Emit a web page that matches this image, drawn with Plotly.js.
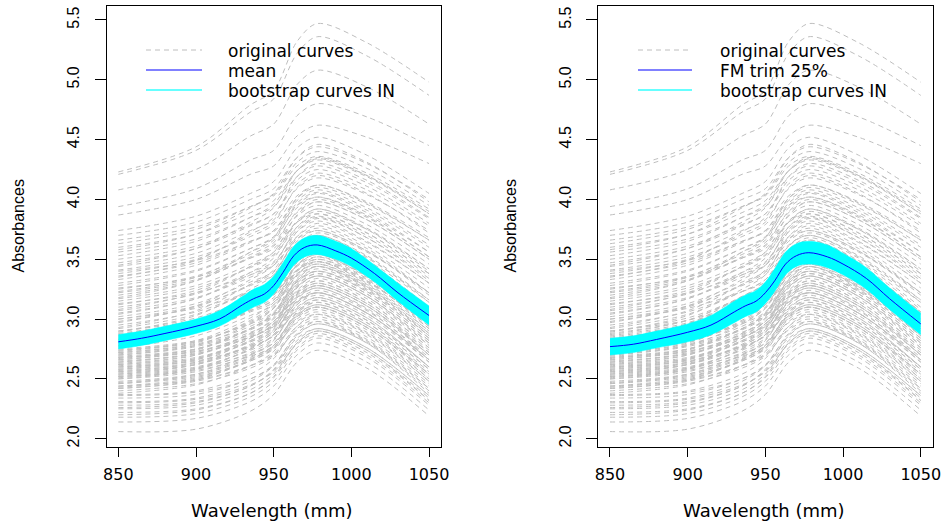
<!DOCTYPE html>
<html>
<head>
<meta charset="utf-8">
<script src="https://cdn.plot.ly/plotly-3.0.1.min.js"></script>
<style>html,body{margin:0;padding:0;background:#fff;}#chart{width:945px;height:522px;}</style>
</head>
<body>
<div id="chart"></div>
<script>
// Wavelengths at which each original curve was read
const wl = [850, 900, 935, 950, 965, 978, 1010, 1050];
// Original absorbance curves
const curves = [
  [4.23,4.44,4.79,4.91,5.32,5.47,5.31,4.98],
  [4.21,4.41,4.73,4.84,5.22,5.36,5.20,4.87],
  [4.08,4.25,4.53,4.63,4.96,5.08,4.94,4.63],
  [3.94,4.09,4.33,4.41,4.70,4.80,4.69,4.45],
  [3.87,4.00,4.21,4.28,4.53,4.62,4.52,4.30],
  [3.74,3.86,4.05,4.15,4.43,4.52,4.37,4.05],
  [3.70,3.81,4.00,4.09,4.35,4.44,4.30,4.00],
  [3.66,3.77,3.94,4.03,4.28,4.36,4.22,3.92],
  [3.63,3.75,3.94,4.04,4.31,4.40,4.26,3.95],
  [3.60,3.71,3.89,3.99,4.24,4.33,4.19,3.88],
  [3.56,3.67,3.85,3.94,4.19,4.28,4.14,3.84],
  [3.53,3.65,3.85,3.96,4.24,4.34,4.20,3.90],
  [3.50,3.61,3.79,3.88,4.13,4.22,4.08,3.78],
  [3.47,3.59,3.78,3.88,4.16,4.25,4.11,3.80],
  [3.44,3.55,3.74,3.83,4.09,4.18,4.04,3.74],
  [3.41,3.52,3.69,3.79,4.03,4.12,3.98,3.68],
  [3.38,3.50,3.71,3.81,4.10,4.20,4.05,3.72],
  [3.36,3.47,3.65,3.74,3.99,4.08,3.93,3.62],
  [3.33,3.45,3.64,3.74,4.01,4.10,3.96,3.66],
  [3.30,3.41,3.59,3.68,3.93,4.02,3.87,3.56],
  [3.28,3.40,3.59,3.69,3.97,4.06,3.91,3.60],
  [3.25,3.36,3.54,3.64,3.89,3.98,3.83,3.50],
  [3.22,3.33,3.51,3.61,3.86,3.95,3.79,3.46],
  [3.20,3.32,3.52,3.62,3.90,4.00,3.85,3.52],
  [3.17,3.28,3.46,3.56,3.81,3.90,3.75,3.42],
  [3.15,3.26,3.43,3.53,3.77,3.86,3.70,3.36],
  [3.12,3.24,3.44,3.54,3.82,3.92,3.75,3.40],
  [3.10,3.21,3.39,3.48,3.73,3.82,3.65,3.30],
  [3.07,3.18,3.35,3.45,3.69,3.78,3.61,3.26],
  [3.05,3.17,3.37,3.47,3.75,3.85,3.68,3.32],
  [3.02,3.13,3.31,3.40,3.65,3.74,3.57,3.20],
  [3.00,3.11,3.28,3.37,3.62,3.70,3.53,3.16],
  [2.98,3.10,3.29,3.39,3.67,3.76,3.59,3.22],
  [2.95,3.06,3.23,3.33,3.57,3.66,3.48,3.10],
  [2.92,3.04,3.23,3.33,3.61,3.70,3.52,3.14],
  [2.90,3.01,3.18,3.27,3.52,3.60,3.42,3.04],
  [2.88,2.99,3.18,3.28,3.55,3.64,3.46,3.08],
  [2.86,2.97,3.14,3.23,3.48,3.56,3.38,3.00],
  [2.84,2.94,3.11,3.20,3.44,3.52,3.34,2.96],
  [2.82,2.93,3.12,3.22,3.49,3.58,3.40,3.02],
  [2.80,2.90,3.07,3.16,3.40,3.48,3.30,2.92],
  [2.78,2.89,3.07,3.16,3.41,3.50,3.32,2.94],
  [2.76,2.86,3.03,3.12,3.36,3.44,3.26,2.88],
  [2.74,2.81,2.97,3.09,3.37,3.46,3.29,2.90],
  [2.72,2.79,2.94,3.05,3.31,3.40,3.23,2.84],
  [2.70,2.77,2.91,3.02,3.27,3.36,3.19,2.80],
  [2.68,2.75,2.92,3.04,3.32,3.42,3.25,2.86],
  [2.66,2.73,2.87,2.98,3.23,3.32,3.15,2.76],
  [2.64,2.71,2.85,2.96,3.21,3.30,3.13,2.74],
  [2.62,2.68,2.82,2.93,3.18,3.26,3.09,2.70],
  [2.60,2.67,2.84,2.96,3.24,3.34,3.17,2.78],
  [2.58,2.64,2.78,2.89,3.14,3.22,3.05,2.66],
  [2.56,2.62,2.76,2.87,3.12,3.20,3.03,2.64],
  [2.54,2.60,2.74,2.84,3.08,3.16,2.99,2.60],
  [2.52,2.59,2.75,2.87,3.15,3.24,3.07,2.68],
  [2.50,2.56,2.70,2.80,3.04,3.12,2.95,2.56],
  [2.48,2.54,2.68,2.78,3.02,3.10,2.93,2.54],
  [2.46,2.52,2.65,2.75,2.98,3.06,2.89,2.50],
  [2.44,2.51,2.66,2.78,3.05,3.14,2.97,2.58],
  [2.42,2.48,2.61,2.71,2.94,3.02,2.85,2.46],
  [2.40,2.46,2.59,2.69,2.92,3.00,2.83,2.44],
  [2.37,2.40,2.54,2.67,2.94,3.04,2.88,2.48],
  [2.34,2.37,2.50,2.62,2.87,2.96,2.80,2.40],
  [2.31,2.34,2.48,2.61,2.88,2.98,2.82,2.42],
  [2.28,2.31,2.44,2.57,2.82,2.92,2.76,2.36],
  [2.25,2.28,2.41,2.54,2.80,2.90,2.74,2.34],
  [2.22,2.25,2.38,2.51,2.76,2.86,2.70,2.30],
  [2.18,2.21,2.35,2.48,2.74,2.84,2.68,2.28],
  [2.14,2.17,2.31,2.44,2.70,2.80,2.64,2.24],
  [2.06,2.08,2.23,2.37,2.64,2.74,2.59,2.19],
  [2.85,2.96,3.15,3.25,3.51,3.60,3.42,3.04],
  [2.83,2.94,3.11,3.21,3.45,3.54,3.36,2.98],
  [2.81,2.93,3.13,3.24,3.52,3.62,3.44,3.06],
  [2.79,2.89,3.06,3.14,3.38,3.46,3.28,2.90],
  [2.77,2.89,3.08,3.18,3.45,3.54,3.35,2.96],
  [2.75,2.82,2.96,3.06,3.32,3.40,3.23,2.84],
  [2.73,2.81,2.98,3.10,3.40,3.50,3.33,2.92],
  [2.71,2.78,2.92,3.03,3.29,3.38,3.21,2.82],
  [2.69,2.75,2.89,2.98,3.22,3.30,3.13,2.72],
  [2.67,2.75,2.92,3.04,3.34,3.44,3.27,2.86],
  [2.65,2.71,2.85,2.95,3.20,3.28,3.11,2.70],
  [2.63,2.70,2.86,2.98,3.27,3.36,3.19,2.78],
  [2.61,2.67,2.81,2.90,3.14,3.22,3.05,2.64],
  [2.59,2.66,2.81,2.92,3.19,3.28,3.11,2.70],
  [2.57,2.63,2.77,2.86,3.10,3.18,3.01,2.60],
  [2.55,2.62,2.78,2.89,3.17,3.26,3.08,2.66],
  [2.53,2.59,2.71,2.80,3.03,3.10,2.93,2.52],
  [2.51,2.58,2.72,2.83,3.09,3.18,3.01,2.60],
  [2.47,2.53,2.67,2.76,3.00,3.08,2.91,2.50],
  [2.43,2.50,2.65,2.76,3.03,3.12,2.95,2.54],
  [3.35,3.49,3.73,3.85,4.19,4.30,4.16,3.85],
  [3.18,3.32,3.56,3.68,4.01,4.12,3.97,3.66],
  [3.08,3.22,3.44,3.56,3.87,3.98,3.83,3.50],
  [2.97,3.11,3.33,3.45,3.77,3.88,3.72,3.38],
  [2.89,3.03,3.25,3.37,3.69,3.80,3.64,3.30],
  [2.83,2.96,3.19,3.30,3.61,3.72,3.56,3.22],
  [2.78,2.91,3.13,3.25,3.55,3.66,3.49,3.14],
  [2.74,2.82,3.01,3.14,3.47,3.58,3.42,3.04],
  [2.70,2.78,2.96,3.09,3.41,3.52,3.36,2.98],
  [2.66,2.74,2.92,3.05,3.37,3.48,3.32,2.94],
  [2.62,2.70,2.88,3.01,3.33,3.44,3.27,2.88],
  [2.58,2.66,2.84,2.96,3.28,3.38,3.21,2.82],
  [2.54,2.62,2.79,2.91,3.22,3.32,3.15,2.76],
  [2.50,2.58,2.75,2.87,3.18,3.28,3.11,2.72],
  [2.46,2.54,2.70,2.82,3.12,3.22,3.05,2.66],
  [2.42,2.49,2.66,2.78,3.06,3.16,2.99,2.60],
  [2.38,2.45,2.61,2.73,3.01,3.10,2.93,2.54],
  [2.90,2.99,3.13,3.21,3.41,3.48,3.31,2.96],
  [3.00,3.09,3.23,3.31,3.51,3.58,3.41,3.06],
  [3.13,3.22,3.37,3.45,3.67,3.74,3.57,3.22],
  [3.26,3.35,3.51,3.59,3.81,3.88,3.72,3.38],
  [3.40,3.49,3.65,3.73,3.95,4.02,3.86,3.52],
  [2.68,2.73,2.85,2.94,3.15,3.22,3.05,2.66],
  [2.60,2.65,2.77,2.86,3.07,3.14,2.97,2.58],
  [2.52,2.57,2.69,2.77,2.97,3.04,2.87,2.48],
  [2.44,2.49,2.61,2.70,2.91,2.98,2.81,2.42],
  [2.36,2.39,2.50,2.61,2.84,2.92,2.76,2.36],
  [2.30,2.33,2.45,2.56,2.79,2.88,2.72,2.32],
  [2.26,2.30,2.44,2.58,2.86,2.96,2.80,2.38],
  [2.20,2.24,2.38,2.52,2.80,2.90,2.74,2.32],
  [3.58,3.71,3.93,4.05,4.35,4.46,4.31,3.98],
  [3.45,3.59,3.81,3.93,4.24,4.35,4.20,3.88],
  [3.23,3.35,3.56,3.66,3.95,4.05,3.89,3.56],
  [3.04,3.17,3.39,3.51,3.81,3.92,3.76,3.42],
  [2.93,3.07,3.29,3.41,3.73,3.84,3.68,3.34],
  [2.87,2.99,3.19,3.30,3.58,3.68,3.51,3.16],
  [2.80,2.92,3.12,3.22,3.50,3.60,3.43,3.06],
  [2.72,2.80,2.99,3.12,3.45,3.56,3.40,3.02],
  [2.64,2.72,2.88,3.00,3.30,3.40,3.24,2.86],
  [2.56,2.64,2.82,2.94,3.26,3.36,3.19,2.80]
];

// Central curves and bootstrap bands
const wlFine = [850,865,880,900,915,930,937,944,950,956,963,970,978,990,1000,1015,1030,1050];
const meanCurve = [2.81,2.84,2.88,2.94,3.00,3.12,3.17,3.21,3.28,3.39,3.53,3.60,3.62,3.57,3.51,3.38,3.22,3.03];
const meanLo    = [2.75,2.78,2.82,2.88,2.94,3.05,3.10,3.14,3.21,3.32,3.45,3.52,3.54,3.50,3.44,3.31,3.15,2.95];
const meanHi    = [2.87,2.90,2.94,3.00,3.07,3.19,3.25,3.29,3.36,3.47,3.61,3.68,3.70,3.65,3.59,3.45,3.30,3.11];
const fmCurve   = [2.77,2.79,2.83,2.89,2.95,3.06,3.11,3.15,3.22,3.32,3.46,3.53,3.555,3.52,3.46,3.34,3.17,2.96];
const fmLo      = [2.70,2.72,2.76,2.81,2.87,2.97,3.02,3.06,3.13,3.23,3.37,3.44,3.46,3.43,3.37,3.25,3.08,2.87];
const fmHi      = [2.84,2.86,2.90,2.96,3.03,3.15,3.20,3.24,3.31,3.42,3.56,3.63,3.65,3.62,3.55,3.43,3.26,3.05];

const xTicks = [850, 900, 950, 1000, 1050];
const yTicks = [2.0, 2.5, 3.0, 3.5, 4.0, 4.5, 5.0, 5.5];
const yTickText = ["2.0","2.5","3.0","3.5","4.0","4.5","5.0","5.5"];
const legendLeft = ["original curves", "mean", "bootstrap curves IN"];
const legendRight = ["original curves", "FM trim 25%", "bootstrap curves IN"];
const xTitle = "Wavelength (mm)";
const yTitle = "Absorbances";

const traces = [];
function addPanel(xa, ya, center, lo, hi) {
  curves.forEach(c => traces.push({
    x: wl, y: c, xaxis: xa, yaxis: ya, type: 'scatter', mode: 'lines',
    line: {color: '#BEBEBE', width: 1, dash: '5px,4px', shape: 'spline', smoothing: 0.9},
    showlegend: false, hoverinfo: 'skip'
  }));
  traces.push({x: wlFine, y: lo, xaxis: xa, yaxis: ya, type: 'scatter', mode: 'lines',
    line: {color: '#00FFFF', width: 0.5, shape: 'spline'}, showlegend: false, hoverinfo: 'skip'});
  traces.push({x: wlFine, y: hi, xaxis: xa, yaxis: ya, type: 'scatter', mode: 'lines',
    fill: 'tonexty', fillcolor: '#00FFFF',
    line: {color: '#00FFFF', width: 0.5, shape: 'spline'}, showlegend: false, hoverinfo: 'skip'});
  traces.push({x: wlFine, y: center, xaxis: xa, yaxis: ya, type: 'scatter', mode: 'lines',
    line: {color: '#0000FF', width: 1, shape: 'spline'}, showlegend: false, hoverinfo: 'skip'});
}
addPanel('x', 'y', meanCurve, meanLo, meanHi);
addPanel('x2', 'y2', fmCurve, fmLo, fmHi);

const W = 945, H = 522;
function xAxis(dom, anchor) {
  return {domain: dom, anchor: anchor, range: [842.5, 1057.7], tickvals: xTicks,
    ticks: 'outside', ticklen: 9, tickwidth: 1, tickcolor: '#000',
    showline: true, mirror: true, linecolor: '#000', linewidth: 1,
    showgrid: false, zeroline: false, ticklabelstandoff: 4,
    tickfont: {family: 'DejaVu Sans', size: 16, color: '#000'}};
}
function yAxis(anchor) {
  return {domain: [0.14368, 0.98851], anchor: anchor, range: [1.931, 5.617],
    tickvals: yTicks, ticktext: yTickText, tickangle: -90,
    ticks: 'outside', ticklen: 11, tickwidth: 1, tickcolor: '#000',
    showline: true, mirror: true, linecolor: '#000', linewidth: 1,
    showgrid: false, zeroline: false, ticklabelstandoff: 9,
    tickfont: {family: 'Liberation Sans', size: 16, color: '#000'}};
}

const shapes = [];
const annotations = [];
function addLegend(x0, x1, xt, labels) {
  const ys = [50, 70, 90];
  const styles = [
    {color: '#BEBEBE', width: 1, dash: '5px,4px'},
    {color: '#8080FF', width: 2},
    {color: '#66FFFF', width: 2}
  ];
  labels.forEach((lab, i) => {
    shapes.push({type: 'line', xref: 'paper', yref: 'paper',
      x0: x0 / W, x1: x1 / W, y0: 1 - ys[i] / H, y1: 1 - ys[i] / H, line: styles[i]});
    annotations.push({text: lab, xref: 'paper', yref: 'paper', x: xt / W, y: 1 - (ys[i] + 0.5) / H,
      xanchor: 'left', yanchor: 'middle', showarrow: false,
      font: {family: 'DejaVu Sans', size: 17, color: '#000'}});
  });
}
addLegend(146, 202, 226, legendLeft);
addLegend(638, 692, 718, legendRight);

[[272, 17.5], [764, 509.5]].forEach(([xc, yc]) => {
  annotations.push({text: xTitle, xref: 'paper', yref: 'paper', x: xc / W, y: 1 - 510 / H,
    xanchor: 'center', yanchor: 'middle', showarrow: false,
    font: {family: 'DejaVu Sans', size: 18, color: '#000'}});
  annotations.push({text: yTitle, xref: 'paper', yref: 'paper', x: yc / W, y: 1 - 226 / H,
    xanchor: 'center', yanchor: 'middle', showarrow: false, textangle: -90,
    font: {family: 'Liberation Sans', size: 16, color: '#000'}});
});

const layout = {
  width: W, height: H, margin: {l: 0, r: 0, t: 0, b: 0},
  paper_bgcolor: '#fff', plot_bgcolor: '#fff', showlegend: false,
  xaxis: xAxis([0.11290, 0.46667], 'y'),
  yaxis: yAxis('x'),
  xaxis2: xAxis([0.63316, 0.98698], 'y2'),
  yaxis2: yAxis('x2'),
  shapes: shapes, annotations: annotations
};

Plotly.newPlot('chart', traces, layout, {staticPlot: true, displayModeBar: false});
</script>
</body>
</html>
